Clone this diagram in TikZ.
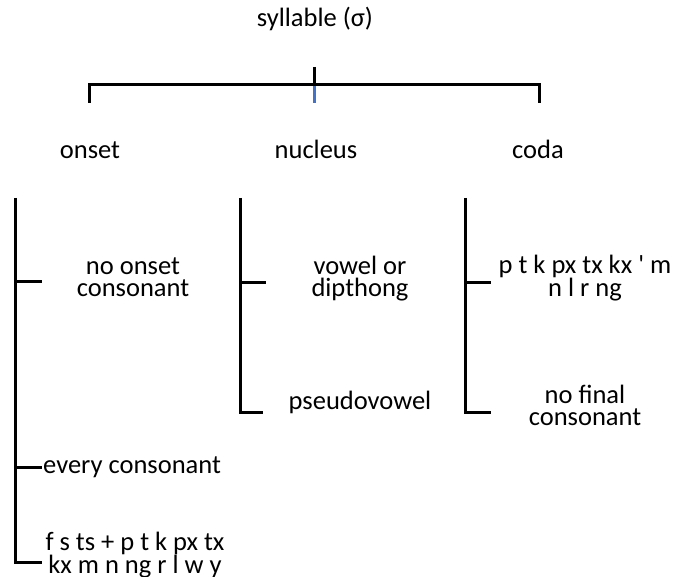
\documentclass[tikz,border=0pt]{standalone}
\usepackage{fontspec}
\setmainfont{Carlito}
\usepackage{xcolor}
\usepackage{tikz}
\usetikzlibrary{positioning}

\definecolor{tickblue}{HTML}{4472C4}

\begin{document}
\begin{tikzpicture}[x=1pt, y=-1pt,
    lbl/.style={font=\fontsize{26.5}{22}\selectfont, inner sep=0pt, anchor=base, align=center},
    bar/.style={line width=3pt}]
    \useasboundingbox (0,0) rectangle (673,577);

    % 1. Nhãn
    \node[lbl] (syl) at (315,27) {syllable (σ)};
    \node[lbl] (ons) at (90,159) {onset};
    \node[lbl] (nuc) at (316,159) {nucleus};
    \node[lbl] (cod) at (538,159) {coda};

    \node[lbl] (noons) at (133,297) {no onset\\consonant};
    \node[lbl, anchor=base west] (every) at (43,474) {every consonant};
    \node[lbl, font=\fontsize{26.5}{19.5}\selectfont] (fsts) at (135,574) {f s ts + p t k px tx\\kx m n ng r l w y};

    \node[lbl] (vow) at (360,297) {vowel or\\dipthong};
    \node[lbl] (pseudo) at (360,410) {pseudovowel};

    \node[lbl] (ptk) at (585,297) {p t k px tx kx \textquotesingle{} m\\n l r ng};
    \node[lbl] (nofin) at (585,426) {no final\\consonant};

    % 2. Khung trên
    \coordinate (top) at (314,67);
    \coordinate (mid) at (314,85);
    \coordinate (midb) at (314,103);
    \coordinate (lft) at (89,85);
    \coordinate (rgt) at (539,85);
    \draw[bar] (top) -- (mid);
    \draw[bar, tickblue] (mid) -- (midb);
    \draw[bar] (lft |- midb) -- (lft) -- (rgt) -- (rgt |- midb);

    % 3. Các nhánh
    \coordinate (o1) at (15,198);
    \coordinate (o2) at (15,563);
    \draw[bar] (o1) -- (o2) -- ++(27,0);
    \draw[bar] (15,282) -- ++(27,0);
    \draw[bar] (15,468) -- ++(27,0);

    \coordinate (n1) at (240,198);
    \coordinate (n2) at (240,413);
    \draw[bar] (n1) -- (n2) -- ++(23,0);
    \draw[bar] (240,283) -- ++(26,0);

    \coordinate (c1) at (465,198);
    \coordinate (c2) at (465,413);
    \draw[bar] (c1) -- (c2) -- ++(26,0);
    \draw[bar] (465,283) -- ++(26,0);
\end{tikzpicture}
\end{document}
